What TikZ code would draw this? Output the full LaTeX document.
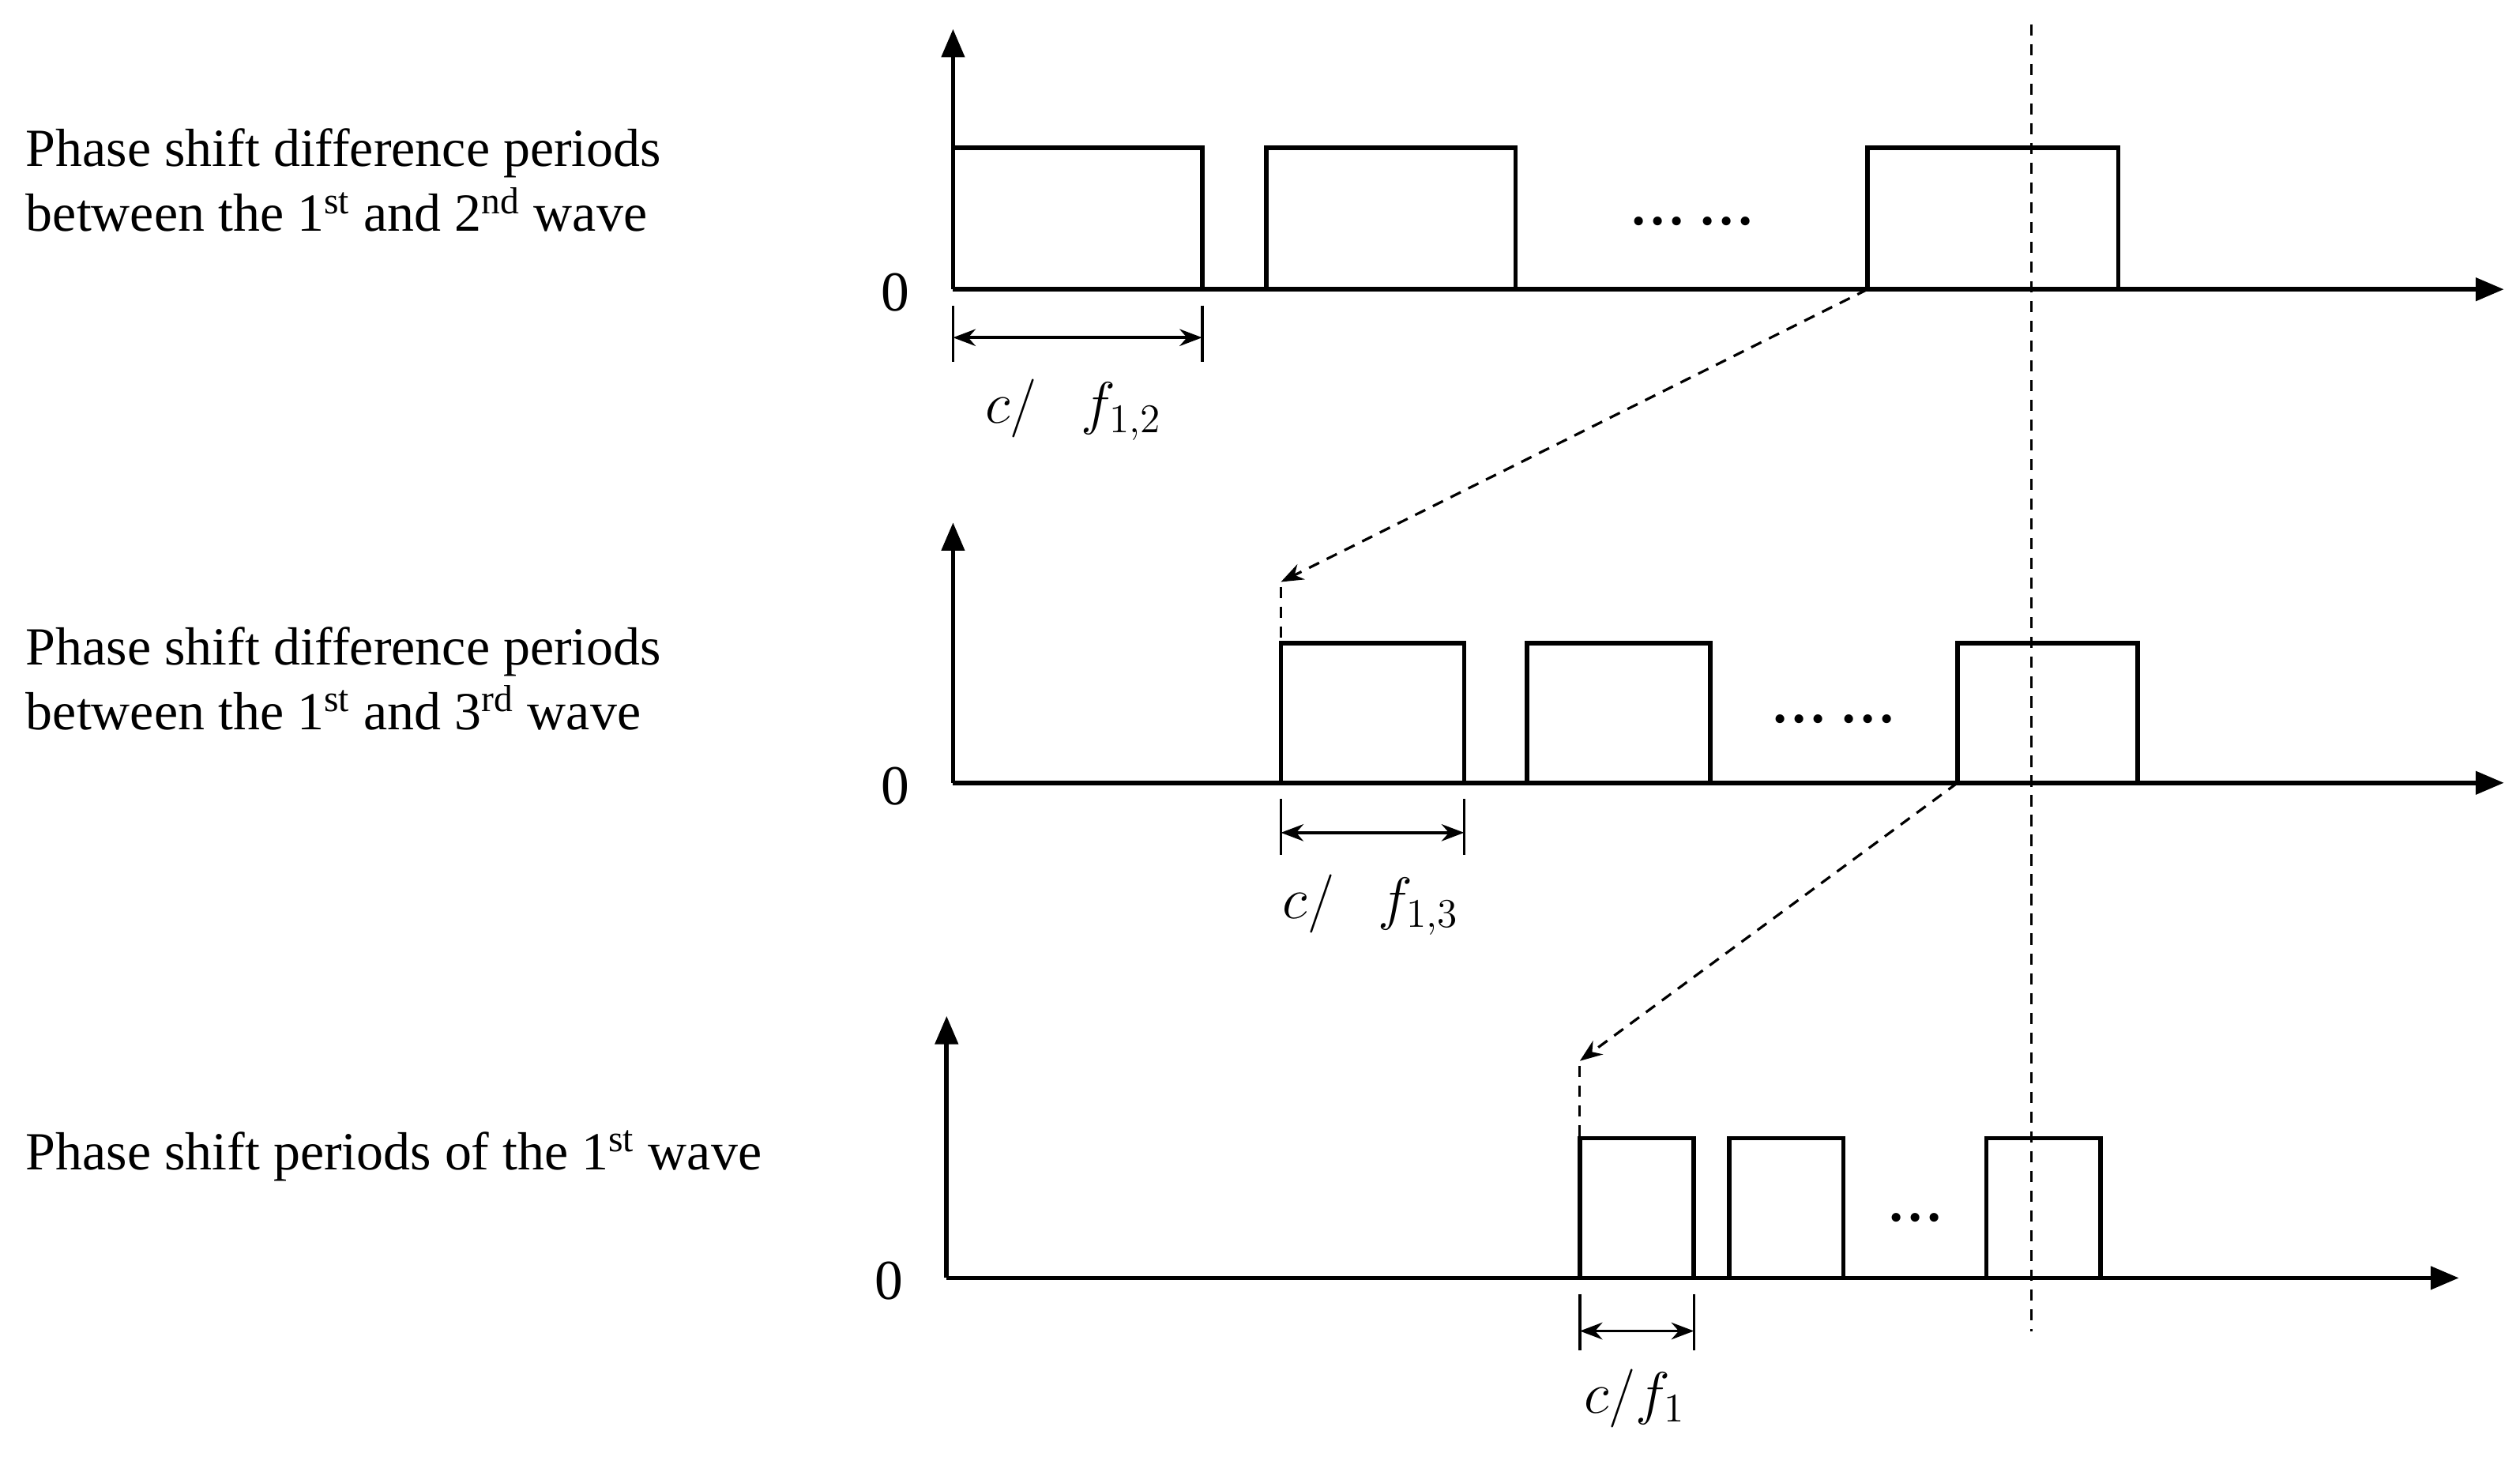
\documentclass[tikz,border=0pt]{standalone}
\usepackage{fontspec}
\setmainfont{Liberation Serif}
\usetikzlibrary{arrows.meta}
\begin{document}
\begin{tikzpicture}[x=0.02cm,y=-0.02cm,
  ax/.style={line width=1.6pt,-{Triangle[length=10pt,width=8pt]}},
  box/.style={line width=1.6pt},
  dim/.style={line width=1pt,{Stealth[length=8pt]}-{Stealth[length=8pt]}},
  tick/.style={line width=1pt},
  dsh/.style={line width=0.9pt,dash pattern=on 4pt off 3pt},
  dsha/.style={dsh,-{Stealth[length=8pt]}},
  lbl/.style={font=\fontsize{19}{23}\selectfont,anchor=west,align=left},
  dts/.style={font=\fontsize{13}{15}\selectfont},
  mth/.style={font=\fontsize{20}{24}\selectfont}]
\useasboundingbox (0,0) rectangle (1568,906);
% labels
\node[lbl] (t1) at (10,112) {Phase shift difference periods\\between the 1\textsuperscript{st} and 2\textsuperscript{nd} wave};
\node[lbl] (t2) at (10,422) {Phase shift difference periods\\between the 1\textsuperscript{st} and 3\textsuperscript{rd} wave};
\node[lbl] (t3) at (10,719) {Phase shift periods of the 1\textsuperscript{st} wave};
% panel 1
\coordinate (o1) at (593,180);
\draw[ax] (o1) -- (593,18);
\draw[ax] (o1) -- (1558,180);
\node[mth] (z1) at (557,182) {0};
\draw[box] (593,180) |- (748,92) -- (748,180);
\draw[box] (788,180) |- (943,92) -- (943,180);
\draw[box] (1162,180) |- (1318,92) -- (1318,180);
\node[dts] (d1) at (1053,140) {\textbullet\,\textbullet\,\textbullet\enspace\textbullet\,\textbullet\,\textbullet};
\draw[tick] (593,190) -- (593,225) (748,190) -- (748,225);
\coordinate (a1) at (593,210); \coordinate (b1) at (748,210);
\draw[dim] (a1) -- (b1);
\node[mth] (l1) at (668,255) {$c/\mathit{\Delta} f_{1,2}$};
% panel 2
\coordinate (o2) at (593,487);
\draw[ax] (o2) -- (593,325);
\draw[ax] (o2) -- (1558,487);
\node[mth] (z2) at (557,489) {0};
\draw[box] (797,487) |- (911,400) -- (911,487);
\draw[box] (950,487) |- (1064,400) -- (1064,487);
\draw[box] (1218,487) |- (1330,400) -- (1330,487);
\node[dts] (d2) at (1141,450) {\textbullet\,\textbullet\,\textbullet\enspace\textbullet\,\textbullet\,\textbullet};
\draw[tick] (797,497) -- (797,532) (911,497) -- (911,532);
\coordinate (a2) at (797,518); \coordinate (b2) at (911,518);
\draw[dim] (a2) -- (b2);
\node[mth] (l2) at (853,563) {$c/\mathit{\Delta} f_{1,3}$};
% panel 3
\coordinate (o3) at (589,795);
\draw[ax] (o3) -- (589,632);
\draw[ax] (o3) -- (1530,795);
\node[mth] (z3) at (553,797) {0};
\draw[box] (983,795) |- (1054,708) -- (1054,795);
\draw[box] (1076,795) |- (1147,708) -- (1147,795);
\draw[box] (1236,795) |- (1307,708) -- (1307,795);
\node[dts] (d3) at (1192,760) {\textbullet\,\textbullet\,\textbullet};
\draw[tick] (983,805) -- (983,840) (1054,805) -- (1054,840);
\coordinate (a3) at (983,828); \coordinate (b3) at (1054,828);
\draw[dim] (a3) -- (b3);
\node[mth] (l3) at (1017,870) {$c/f_1$};
% dashed connectors
\coordinate (s1) at (1162,180); \coordinate (e1) at (797,362);
\draw[dsha] (s1) -- (e1);
\draw[dsh] (797,365) -- (797,400);
\coordinate (s2) at (1218,487); \coordinate (e2) at (983,660);
\draw[dsha] (s2) -- (e2);
\draw[dsh] (983,663) -- (983,708);
\coordinate (v1) at (1264,15); \coordinate (v2) at (1264,828);
\draw[dsh] (v1) -- (v2);
\end{tikzpicture}
\end{document}
